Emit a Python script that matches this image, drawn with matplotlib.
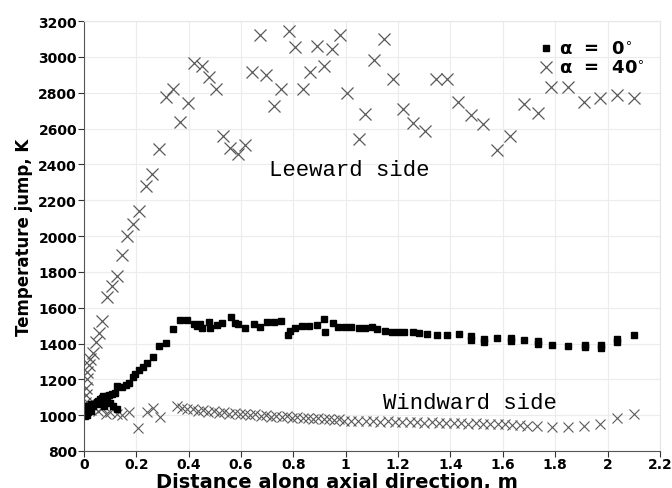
import matplotlib
matplotlib.use('Agg')
import matplotlib.pyplot as plt

# alpha = 40 deg, leeward side (upper crosses)
lee_x = [0.005, 0.008, 0.008, 0.010, 0.013, 0.018, 0.023, 0.033, 0.046, 0.059, 0.068, 0.087,
         0.106, 0.125, 0.147, 0.163, 0.189, 0.210, 0.236, 0.259, 0.288, 0.312, 0.339, 0.367,
         0.397, 0.422, 0.450, 0.476, 0.505, 0.531, 0.559, 0.588, 0.616, 0.641, 0.671, 0.696,
         0.727, 0.754, 0.782, 0.807, 0.837, 0.862, 0.890, 0.916, 0.948, 0.977, 1.005, 1.049,
         1.075, 1.107, 1.145, 1.181, 1.219, 1.257, 1.301, 1.343, 1.387, 1.429, 1.479, 1.525,
         1.576, 1.627, 1.681, 1.734, 1.785, 1.849, 1.910, 1.971, 2.035, 2.101]
lee_y = [1070, 1110, 1150, 1200, 1240, 1280, 1314, 1345, 1407, 1459, 1528, 1658,
         1720, 1776, 1897, 1999, 2067, 2138, 2281, 2346, 2486, 2778, 2821, 2635,
         2743, 2966, 2947, 2886, 2821, 2560, 2489, 2458, 2510, 2917, 3124, 2899,
         2728, 2821, 3146, 3053, 2821, 2917, 3062, 2947, 3044, 3122, 2798, 2542,
         2681, 2984, 3103, 2876, 2709, 2629, 2586, 2876, 2876, 2746, 2675, 2625,
         2482, 2560, 2737, 2685, 2830, 2830, 2746, 2770, 2787, 2770]

# alpha = 40 deg, windward side (lower crosses)
wind_x = [0.004, 0.010, 0.018, 0.028, 0.040, 0.055, 0.070, 0.084, 0.100, 0.125, 0.145, 0.170,
          0.208, 0.240, 0.262, 0.291, 0.354, 0.375, 0.395, 0.415, 0.435, 0.455, 0.475, 0.495,
          0.515, 0.535, 0.555, 0.575, 0.595, 0.615, 0.635, 0.655, 0.675, 0.695, 0.715, 0.735,
          0.755, 0.775, 0.795, 0.815, 0.835, 0.855, 0.875, 0.895, 0.915, 0.935, 0.955, 0.975,
          0.995, 1.020, 1.048, 1.076, 1.104, 1.132, 1.160, 1.188, 1.216, 1.244, 1.272, 1.300,
          1.328, 1.356, 1.384, 1.412, 1.440, 1.468, 1.496, 1.524, 1.552, 1.580, 1.608, 1.636,
          1.664, 1.692, 1.730, 1.789, 1.849, 1.910, 1.971, 2.035, 2.101]
wind_y = [1010, 1045, 1060, 1030, 1045, 1025, 1040, 1007, 1020, 1007, 1000, 1016,
          928, 1016, 1040, 989, 1050, 1040, 1032, 1036, 1025, 1030, 1020, 1024,
          1012, 1018, 1008, 1012, 1004, 1008, 1000, 1004, 996, 1000, 992, 996,
          990, 993, 985, 989, 982, 986, 980, 983, 976, 979, 973, 976,
          970, 968, 970, 966, 968, 964, 966, 962, 964, 960, 962, 958,
          960, 956, 958, 954, 956, 952, 954, 950, 952, 948, 950, 946,
          945, 942, 938, 933, 933, 938, 951, 983, 1007]

# alpha = 0 deg (filled squares)
zero_x = [0.003, 0.005, 0.008, 0.010, 0.012, 0.016, 0.020, 0.025, 0.030, 0.036, 0.040, 0.048,
          0.055, 0.061, 0.068, 0.074, 0.080, 0.087, 0.095, 0.106, 0.119, 0.060, 0.075, 0.087,
          0.100, 0.112, 0.127, 0.015, 0.025,
          0.125, 0.144, 0.161, 0.170, 0.186, 0.195, 0.212, 0.227, 0.240, 0.262, 0.288, 0.314,
          0.339, 0.367, 0.393, 0.421, 0.430, 0.444, 0.450, 0.476, 0.480, 0.507, 0.527, 0.561,
          0.576, 0.590, 0.616, 0.650, 0.671, 0.699, 0.725, 0.754, 0.778, 0.787, 0.807, 0.833,
          0.858, 0.890, 0.916, 0.920, 0.950, 0.970, 0.998, 1.020, 1.049, 1.075, 1.100, 1.120,
          1.151, 1.177, 1.200, 1.224, 1.257, 1.279, 1.311, 1.347, 1.387, 1.432, 1.479, 1.479,
          1.528, 1.528, 1.579, 1.630, 1.630, 1.681, 1.734, 1.734, 1.789, 1.849, 1.913, 1.913,
          1.974, 1.974, 2.035, 2.035, 2.101]
zero_y = [995, 1010, 1020, 1000, 1030, 1016, 1040, 1025, 1050, 1053, 1065, 1072,
          1080, 1090, 1098, 1105, 1100, 1109, 1112, 1118, 1124, 1060, 1050, 1072,
          1068, 1053, 1035, 1050, 1060,
          1165, 1160, 1169, 1180, 1212, 1230, 1254, 1267, 1292, 1323, 1385, 1403,
          1481, 1531, 1531, 1509, 1498, 1509, 1485, 1518, 1485, 1503, 1514, 1550,
          1514, 1509, 1485, 1509, 1490, 1522, 1522, 1527, 1448, 1470, 1485, 1496,
          1496, 1503, 1537, 1466, 1514, 1490, 1490, 1490, 1485, 1485, 1490, 1481,
          1472, 1463, 1463, 1466, 1466, 1457, 1454, 1448, 1448, 1454, 1420, 1440,
          1410, 1428, 1430, 1415, 1432, 1422, 1396, 1412, 1392, 1388, 1380, 1394,
          1376, 1392, 1410, 1424, 1450]

x_ticks = [0, 0.2, 0.4, 0.6, 0.8, 1, 1.2, 1.4, 1.6, 1.8, 2, 2.2]
x_ticklabels = ['0', '0.2', '0.4', '0.6', '0.8', '1', '1.2', '1.4', '1.6', '1.8', '2', '2.2']
y_ticks = list(range(800, 3201, 200))

fig = plt.figure(figsize=(6.72, 4.89), dpi=100)
ax = fig.add_axes([0.125, 0.0757, 0.857, 0.879])

ax.plot(lee_x, lee_y, linestyle='none', marker='x', markersize=8, markeredgewidth=0.9,
        color='#5a5a5a', label='α  =  40$^{\\circ}$')
ax.plot(wind_x, wind_y, linestyle='none', marker='x', markersize=7, markeredgewidth=0.8,
        color='#5a5a5a')
ax.plot(zero_x, zero_y, linestyle='none', marker='s', markersize=5, color='black',
        label='α  =  0$^{\\circ}$')

ax.set_xlim(0, 2.2)
ax.set_ylim(800, 3200)
ax.set_xticks(x_ticks)
ax.set_xticklabels(x_ticklabels)
ax.set_yticks(y_ticks)
ax.tick_params(direction='out', length=4, width=0.8, colors='#333333', pad=1)
ax.tick_params(axis='x', pad=0)
for lab in ax.get_xticklabels() + ax.get_yticklabels():
    lab.set_fontweight('bold')
    lab.set_fontsize(10)
    lab.set_color('black')
ax.grid(True, color='#ececec', linewidth=0.8)
ax.set_axisbelow(True)
for s in ['top', 'right']:
    ax.spines[s].set_color('#e6e6e6')
for s in ['left', 'bottom']:
    ax.spines[s].set_color('#555555')

ax.set_xlabel('Distance along axial direction, m', fontsize=14, fontweight='bold')
ax.xaxis.set_label_coords(0.44, -0.05)
ax.set_ylabel('Temperature jump, K', fontsize=12, fontweight='bold', labelpad=4)

ax.text(1.014, 2374, 'Leeward side', family='Liberation Mono', fontsize=16,
        ha='center', va='center')
ax.text(1.473, 1068, 'Windward side', family='Liberation Mono', fontsize=16,
        ha='center', va='center')

handles, labels = ax.get_legend_handles_labels()
ax.legend(handles[::-1], labels[::-1], loc='upper right', bbox_to_anchor=(0.995, 0.985),
          frameon=False, prop={'family': 'DejaVu Sans', 'weight': 'bold', 'size': 13},
          handlelength=0.6, handletextpad=0.4, labelspacing=0.05, borderpad=0.2)

fig.savefig('out.png', dpi=100)
